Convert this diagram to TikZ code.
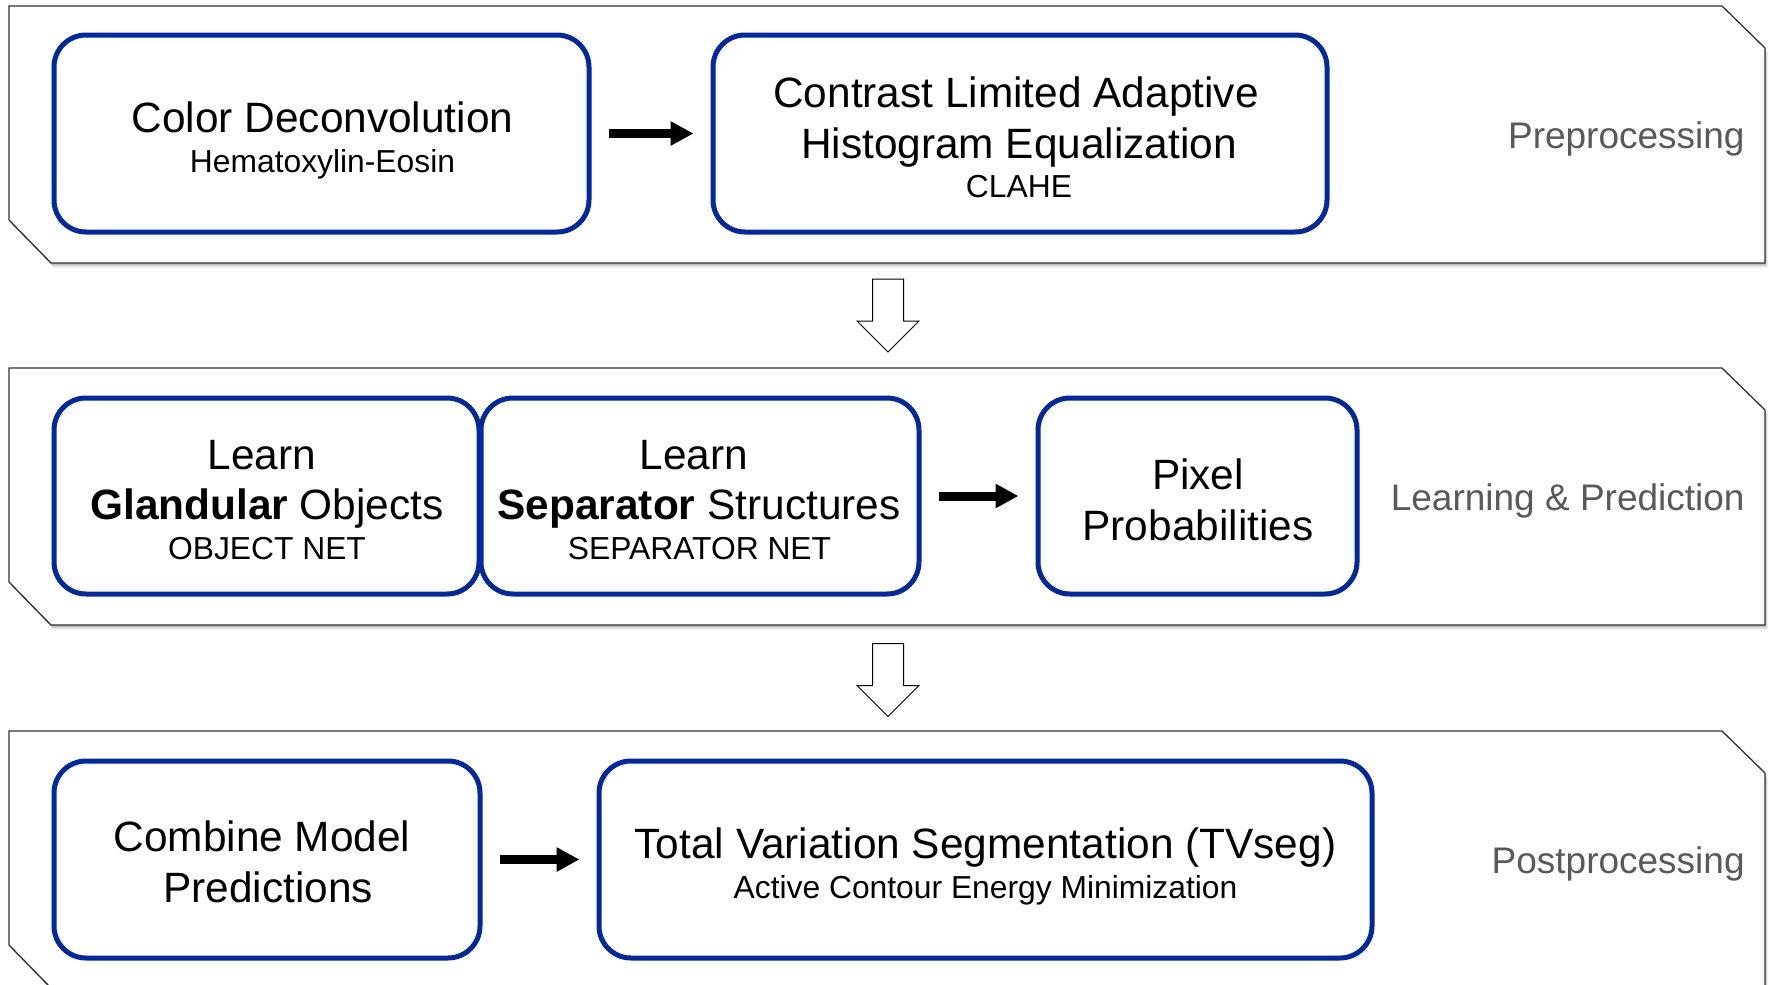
\documentclass[tikz,border=0pt]{standalone}
\usepackage{fontspec}
\setmainfont{Liberation Sans}
\usetikzlibrary{arrows.meta,calc}
\definecolor{boxblue}{RGB}{0,40,160}
\definecolor{labelgray}{RGB}{89,89,89}
\definecolor{panelline}{RGB}{50,50,50}
\tikzset{
  panelshape/.pic={
    \foreach \s/\o in {5/0.04,4/0.05,3/0.07,2/0.09,1/0.1}{
      \fill[black,opacity=\o] (9+\s*0.6,6+\s) -- (1722+\s*0.6,6+\s) -- (1765+\s*0.6,48+\s) -- (1765+\s*0.6,263+\s) -- (51+\s*0.6,263+\s) -- (9+\s*0.6,220+\s) -- cycle;
    }
    \draw[fill=white,draw=panelline,line width=0.65pt,line join=miter] (9,6) -- (1722,6) -- (1765,48) -- (1765,263) -- (51,263) -- (9,220) -- cycle;
  }
}
\begin{document}
\begin{tikzpicture}[x=0.5pt,y=-0.5pt,
  stepbox/.style={draw=boxblue, line width=2.5pt, rounded corners=16pt, fill=white, inner sep=0pt, minimum height=98.5pt},
  maintxt/.style={font=\fontsize{21.2pt}{25pt}\selectfont, inner sep=0pt, anchor=base},
  subtxt/.style={font=\fontsize{15.9pt}{19pt}\selectfont, inner sep=0pt, anchor=base},
  phase/.style={font=\fontsize{18.5pt}{22pt}\selectfont, text=labelgray, inner sep=0pt, anchor=base east},
  flow/.style={line width=4.5pt, -{Triangle[length=11.5pt,width=11.5pt]}, shorten <=8.5pt, shorten >=8.5pt},
  hollow/.style={fill=white, draw=black, line width=0.5pt, line join=miter}
]
\useasboundingbox (0,0) rectangle (1769,985);
\fill[white] (0,0) rectangle (1769,985);

% panels
\pic at (0,0) {panelshape};
\pic at (0,362) {panelshape};
\pic at (0,725) {panelshape};

% phase labels
\node[phase] (l1) at (1745,148) {Preprocessing};
\node[phase] (l2) at (1745,510) {Learning \& Prediction};
\node[phase] (l3) at (1745,873) {Postprocessing};

% boxes
\node[stepbox, minimum width=267.5pt] (b1) at (321.5,133.5) {};
\node[stepbox, minimum width=307pt] (b2) at (1020,133.5) {};
\node[stepbox, minimum width=212.5pt, minimum height=98pt] (b3) at (266.5,496) {};
\node[stepbox, minimum width=219pt, minimum height=98pt] (b4) at (700,496) {};
\node[stepbox, minimum width=159.5pt, minimum height=98pt] (b5) at (1197.5,496) {};
\node[stepbox, minimum width=213pt] (b6) at (267,859.5) {};
\node[stepbox, minimum width=386.5pt] (b7) at (985.5,859.5) {};

% texts
\node[maintxt] (t1a) at (322.5,132) {Color Deconvolution};
\node[subtxt] (t1b) at (322.5,172) {Hematoxylin-Eosin};
\node[maintxt] (t2a) at (1016,107) {Contrast Limited Adaptive};
\node[maintxt] (t2b) at (1019,158) {Histogram Equalization};
\node[subtxt] (t2c) at (1019,197) {CLAHE};
\node[maintxt] (t3a) at (262,469) {Learn};
\node[maintxt] (t3b) at (267,519) {\textbf{Glandular} Objects};
\node[subtxt] (t3c) at (267,559) {OBJECT NET};
\node[maintxt] (t4a) at (694,469) {Learn};
\node[maintxt] (t4b) at (699,519) {\textbf{Separator} Structures};
\node[subtxt] (t4c) at (699.5,559) {SEPARATOR NET};
\node[maintxt] (t5a) at (1198,489) {Pixel};
\node[maintxt] (t5b) at (1198,540) {Probabilities};
\node[maintxt] (t6a) at (262,851) {Combine Model};
\node[maintxt] (t6b) at (268,902) {Predictions};
\node[maintxt] (t7a) at (985.5,858) {Total Variation Segmentation (TVseg)};
\node[subtxt] (t7b) at (985.5,898) {Active Contour Energy Minimization};

% flow arrows
\draw[flow] (b1.east) -- (b2.west);
\draw[flow] (b4.east) -- (b5.west);
\draw[flow] (b6.east) -- (b7.west);

% hollow arrows between panels
\coordinate (d1) at (888,315.5);
\coordinate (d2) at (888,680);
\foreach \c in {d1,d2}{
  \draw[hollow] (\c) ++(-15.5,-36.5) -- ++(31,0) -- ++(0,42) -- ++(15.5,0) -- ++(-31,31) -- ++(-31,-31) -- ++(15.5,0) -- cycle;
}
\end{tikzpicture}
\end{document}
